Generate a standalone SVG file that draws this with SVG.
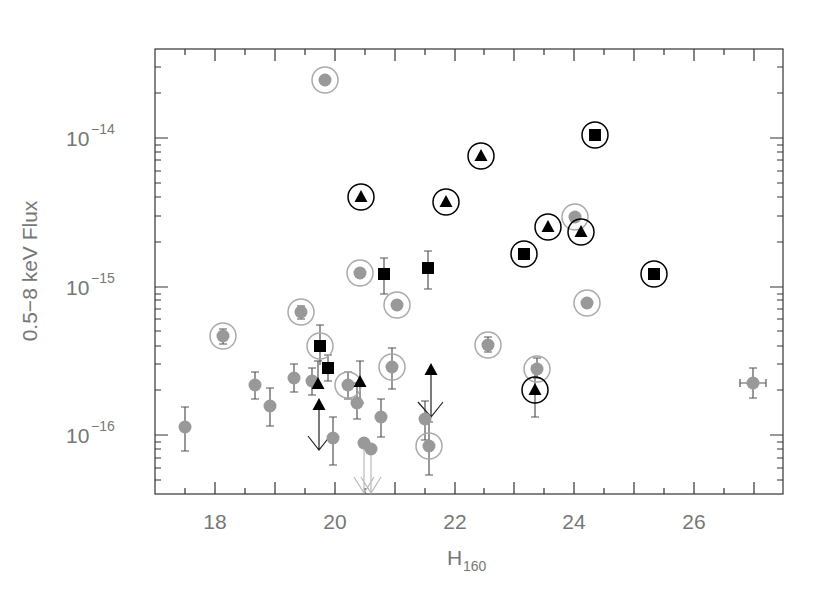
<svg xmlns="http://www.w3.org/2000/svg" width="830" height="593" viewBox="0 0 830 593">
<style>
.ax{stroke:#333;stroke-width:1.2;fill:none}
.e{stroke:#555;stroke-width:1.2;fill:none}
.g{fill:#999}
.rg{fill:none;stroke:#aaa;stroke-width:1.5}
.rb{fill:none;stroke:#000;stroke-width:1.5}
.k{fill:#000}
.t{font-family:"Liberation Sans",Arial,sans-serif;fill:#777;font-size:21px}
.s{font-family:"Liberation Sans",Arial,sans-serif;fill:#777;font-size:14px}
.ag{stroke:#bbb;stroke-width:1.2;fill:none}
.ak{stroke:#222;stroke-width:1.2;fill:none}
</style>
<defs>
<circle id="g" r="6.5" class="g"/>
<circle id="rg" r="13" class="rg"/>
<circle id="rb" r="13" class="rb"/>
<rect id="sq" x="-6" y="-6" width="12" height="12" class="k"/>
<path id="tr" d="M0,-7 L6.5,5 L-6.5,5 Z" class="k"/>
</defs>
<rect width="830" height="593" fill="#fff"/>
<g id="axes">
<rect x="155" y="49" width="628" height="445" class="ax"/>
<path class="ax" d="M185,494v-6M215,494v-12M245,494v-6M275,494v-12M305,494v-6M335,494v-12M365,494v-6M395,494v-12M425,494v-6M455,494v-12M484,494v-6M514,494v-12M544,494v-6M574,494v-12M604,494v-6M634,494v-12M664,494v-6M694,494v-12M724,494v-6M754,494v-12
M185,49v6M215,49v12M245,49v6M275,49v12M305,49v6M335,49v12M365,49v6M395,49v12M425,49v6M455,49v12M484,49v6M514,49v12M544,49v6M574,49v12M604,49v6M634,49v12M664,49v6M694,49v12M724,49v6M754,49v12"/>
<path class="ax" d="M155,138h13M155,287h13M155,435h13M783,138h-13M783,287h-13M783,435h-13
M155,93h6M155,67h6M155,242h6M155,216h6M155,197h6M155,183h6M155,171h6M155,160h6M155,152h6M155,145h6
M155,390h6M155,364h6M155,346h6M155,331h6M155,319h6M155,309h6M155,300h6M155,294h6
M155,442h6M155,449h6M155,458h6M155,468h6M155,480h6
M783,93h-6M783,67h-6M783,242h-6M783,216h-6M783,197h-6M783,183h-6M783,171h-6M783,160h-6M783,152h-6M783,145h-6
M783,390h-6M783,364h-6M783,346h-6M783,331h-6M783,319h-6M783,309h-6M783,300h-6M783,294h-6
M783,442h-6M783,449h-6M783,458h-6M783,468h-6M783,480h-6"/>
<text class="t" x="215" y="529" text-anchor="middle">18</text>
<text class="t" x="335" y="529" text-anchor="middle">20</text>
<text class="t" x="455" y="529" text-anchor="middle">22</text>
<text class="t" x="574" y="529" text-anchor="middle">24</text>
<text class="t" x="694" y="529" text-anchor="middle">26</text>
<text class="t" x="66" y="146">10</text><text class="s" x="91" y="134">−14</text>
<text class="t" x="66" y="295">10</text><text class="s" x="91" y="283">−15</text>
<text class="t" x="66" y="443">10</text><text class="s" x="91" y="431">−16</text>
<text class="t" x="447" y="565">H</text><text class="s" x="463" y="571">160</text>
<text class="t" transform="translate(37,271) rotate(-90)" text-anchor="middle">0.5−8 keV Flux</text>
</g>
<g id="connectors">
<path class="e" d="M185,407v44M181,407h8M181,451h8
M255,372v27M251,372h8M251,399h8
M270,388v38M266,388h8M266,426h8
M294,364v28M290,364h8M290,392h8
M312,368v27M308,368h8M308,395h8
M333,417v48M329,417h8M329,465h8
M348,372v27M344,372h8M344,399h8
M357,383v36M353,383h8M353,419h8
M381,399v38M377,399h8M377,437h8
M392,348v41M388,348h8M388,389h8
M425,401v39M421,401h8M421,440h8
M429,422v53M425,422h8M425,475h8
M223,329v15M219,329h8M219,344h8
M301,306v13M297,306h8M297,319h8
M488,337v15M484,337h8M484,352h8
M537,358v20M533,358h8M533,378h8
M740,383h26M740,379v8M766,379v8M753,368v30M749,368h8M749,398h8
M320,325v40M316,325h8
M328,355v26M324,355h8M324,381h8
M384,258v36M380,258h8M380,294h8
M428,251v38M424,251h8M424,289h8
M318,361v23M314,361h8
M360,361v42M356,361h8M356,403h8
M535,366v51M531,366h8M531,417h8"/>
<path class="ag" d="M364,443v50M371,449v44M354,477l10,16l10,-16M361,477l10,16l10,-16"/>
<path class="ak" d="M319,405v45M308,436l11,14l11,-14M431,370v47M418,402l13,15l12,-15"/>
</g>
<g id="points">
<g id="p1"><use href="#rg" x="325" y="80"/><use href="#g" x="325" y="80"/></g>
<g id="p2"><use href="#rg" x="360" y="273"/><use href="#g" x="360" y="273"/></g>
<g id="p3"><use href="#rg" x="301" y="312"/><use href="#g" x="301" y="312"/></g>
<g id="p4"><use href="#rg" x="397" y="305"/><use href="#g" x="397" y="305"/></g>
<g id="p5"><use href="#rg" x="223" y="336"/><use href="#g" x="223" y="336"/></g>
<g id="p6"><use href="#rg" x="488" y="345"/><use href="#g" x="488" y="345"/></g>
<g id="p7"><use href="#rg" x="537" y="369"/><use href="#g" x="537" y="369"/></g>
<g id="p8"><use href="#rg" x="575" y="217"/><use href="#g" x="575" y="217"/></g>
<g id="p9"><use href="#rg" x="587" y="303"/><use href="#g" x="587" y="303"/></g>
<g id="p10"><use href="#rg" x="392" y="367"/><use href="#g" x="392" y="367"/></g>
<g id="p11"><use href="#rg" x="348" y="385"/><use href="#g" x="348" y="385"/></g>
<g id="p12"><use href="#rg" x="429" y="446"/><use href="#g" x="429" y="446"/></g>
<g id="p13"><use href="#g" x="185" y="427"/></g>
<g id="p14"><use href="#g" x="255" y="385"/></g>
<g id="p15"><use href="#g" x="270" y="406"/></g>
<g id="p16"><use href="#g" x="294" y="378"/></g>
<g id="p17"><use href="#g" x="312" y="381"/></g>
<g id="p18"><use href="#g" x="333" y="438"/></g>
<g id="p19"><use href="#g" x="357" y="403"/></g>
<g id="p20"><use href="#g" x="364" y="443"/></g>
<g id="p21"><use href="#g" x="371" y="449"/></g>
<g id="p22"><use href="#g" x="381" y="417"/></g>
<g id="p23"><use href="#g" x="425" y="419"/></g>
<g id="p24"><use href="#g" x="753" y="383"/></g>
<g id="s1"><use href="#rg" x="320" y="346"/><use href="#sq" x="320" y="346"/></g>
<g id="s2"><use href="#sq" x="328" y="368"/></g>
<g id="s3"><use href="#sq" x="384" y="274"/></g>
<g id="s4"><use href="#sq" x="428" y="268"/></g>
<g id="s5"><use href="#rb" x="595" y="135"/><use href="#sq" x="595" y="135"/></g>
<g id="s6"><use href="#rb" x="524" y="254"/><use href="#sq" x="524" y="254"/></g>
<g id="s7"><use href="#rb" x="654" y="274"/><use href="#sq" x="654" y="274"/></g>
<g id="t1"><use href="#rb" x="361" y="197"/><use href="#tr" x="361" y="197"/></g>
<g id="t2"><use href="#rb" x="446" y="202"/><use href="#tr" x="446" y="202"/></g>
<g id="t3"><use href="#rb" x="481" y="156"/><use href="#tr" x="481" y="156"/></g>
<g id="t4"><use href="#rb" x="548" y="227"/><use href="#tr" x="548" y="227"/></g>
<g id="t5"><use href="#rb" x="581" y="232"/><use href="#tr" x="581" y="232"/></g>
<g id="t6"><use href="#rb" x="535" y="390"/><use href="#tr" x="535" y="390"/></g>
<g id="t7"><use href="#tr" x="318" y="384"/></g>
<g id="t8"><use href="#tr" x="319" y="405"/></g>
<g id="t9"><use href="#tr" x="360" y="382"/></g>
<g id="t10"><use href="#tr" x="431" y="370"/></g>
</g>
</svg>
